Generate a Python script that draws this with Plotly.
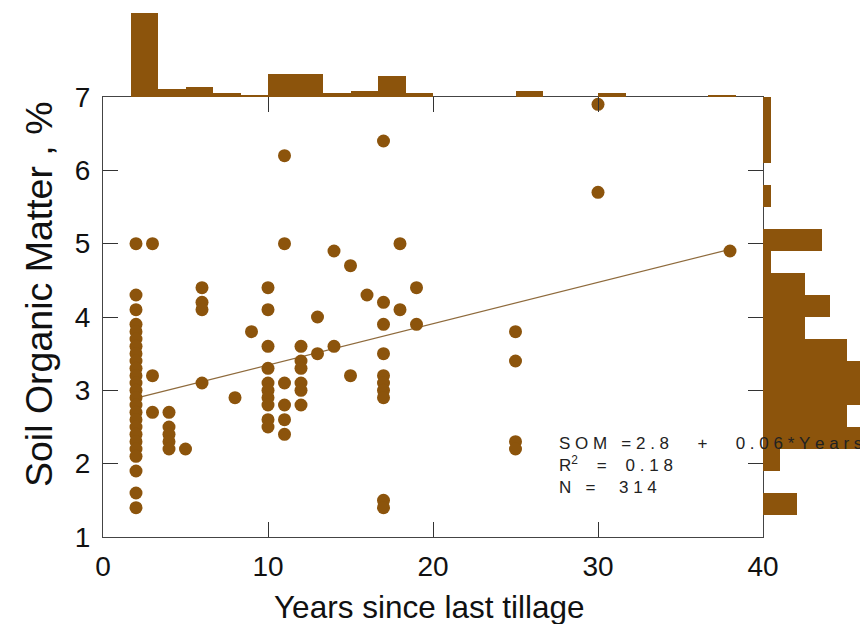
import plotly.graph_objects as go

# ---------------- data ----------------
# scatter points (Years since last tillage, SOM %)
YEARS = ([2]*25 + [3]*3 + [4]*5 + [5] + [6]*4 + [8] + [9] + [10]*10 + [11]*6 +
         [12]*6 + [13]*2 + [14]*2 + [15]*2 + [16] + [17]*10 + [18]*2 + [19]*2 +
         [25]*4 + [30]*2 + [38])
SOM = ([5.0, 4.3, 4.1, 3.9, 3.8, 3.7, 3.6, 3.5, 3.4, 3.3, 3.2, 3.1, 3.0, 2.9, 2.8,
        2.7, 2.6, 2.5, 2.4, 2.3, 2.2, 2.1, 1.9, 1.6, 1.4] +
       [5.0, 3.2, 2.7] +
       [2.7, 2.5, 2.4, 2.3, 2.2] +
       [2.2] +
       [4.4, 4.2, 4.1, 3.1] +
       [2.9] +
       [3.8] +
       [4.4, 4.1, 3.6, 3.3, 3.1, 3.0, 2.9, 2.8, 2.6, 2.5] +
       [6.2, 5.0, 3.1, 2.8, 2.6, 2.4] +
       [3.6, 3.4, 3.3, 3.1, 3.0, 2.8] +
       [4.0, 3.5] +
       [4.9, 3.6] +
       [4.7, 3.2] +
       [4.3] +
       [6.4, 4.2, 3.9, 3.5, 3.2, 3.1, 3.0, 2.9, 1.5, 1.4] +
       [5.0, 4.1] +
       [4.4, 3.9] +
       [3.8, 3.4, 2.3, 2.2] +
       [6.9, 5.7] +
       [4.9])

# regression line
INTERCEPT = 2.78
SLOPE = 0.0564
LINE_YEARS = [2, 38]

# top marginal histogram (bins of 5/3 year starting at 0)
TOP_BIN_WIDTH = 5 / 3
TOP_COUNTS = [0, 40, 4, 5, 2, 1, 11, 11, 2, 3, 10, 2, 0, 0, 0, 3, 0, 0, 2, 0, 0, 0, 1, 0]

# right marginal histogram (bins of 0.3 % starting at 1.3)
RIGHT_BIN_START = 1.3
RIGHT_BIN_WIDTH = 0.3
RIGHT_COUNTS = [4, 0, 2, 14, 10, 15, 16, 10, 5, 8, 5, 1, 7, 0, 1, 0, 1, 1, 1]

X_TICKS = [0, 10, 20, 30, 40]
Y_TICKS = [1, 2, 3, 4, 5, 6, 7]

# ---------------- style ----------------
BROWN = "#8C540C"
LINE_BROWN = "#8E6A3C"
FONT = "Liberation Sans, Arial, sans-serif"
W, H = 860, 624
PX_L, PX_R, PX_T, PX_B = 103, 763, 97, 537

xd = [PX_L / W, PX_R / W]
yd = [1 - PX_B / H, 1 - PX_T / H]

fig = go.Figure()

fig.add_trace(go.Bar(
    x=[(k + 0.5) * TOP_BIN_WIDTH for k in range(len(TOP_COUNTS))],
    y=TOP_COUNTS, width=TOP_BIN_WIDTH, marker=dict(color=BROWN, line=dict(width=0)),
    xaxis="x2", yaxis="y2", showlegend=False, hoverinfo="skip"))

fig.add_trace(go.Bar(
    y=[RIGHT_BIN_START + (k + 0.5) * RIGHT_BIN_WIDTH for k in range(len(RIGHT_COUNTS))],
    x=RIGHT_COUNTS, width=RIGHT_BIN_WIDTH, orientation="h",
    marker=dict(color=BROWN, line=dict(width=0)),
    xaxis="x3", yaxis="y3", showlegend=False, hoverinfo="skip"))

fig.add_trace(go.Scatter(
    x=LINE_YEARS, y=[INTERCEPT + SLOPE * v for v in LINE_YEARS], mode="lines",
    line=dict(color=LINE_BROWN, width=1.2), showlegend=False))

fig.add_trace(go.Scatter(
    x=YEARS, y=SOM, mode="markers",
    marker=dict(color=BROWN, size=13, line=dict(width=0)), showlegend=False))

axis_common = dict(showgrid=False, zeroline=False, showline=True, linecolor="#444",
                   linewidth=1, mirror="ticks", ticks="inside", ticklen=15,
                   tickcolor="#333", tickwidth=1, automargin=False,
                   tickfont=dict(family=FONT, size=28, color="#111"))

hidden = dict(visible=False, automargin=False)

fig.update_layout(
    width=W, height=H, autosize=False,
    margin=dict(l=0, r=0, t=0, b=0, pad=0, autoexpand=False),
    paper_bgcolor="white", plot_bgcolor="white", bargap=0,
    xaxis=dict(domain=xd, range=[0, 40], tickvals=X_TICKS, anchor="y",
               ticklabelstandoff=4, **axis_common),
    yaxis=dict(domain=yd, range=[1, 7], tickvals=Y_TICKS, anchor="x",
               ticklabelstandoff=6, **axis_common),
    xaxis2=dict(domain=xd, range=[0, 40], anchor="y2", **hidden),
    yaxis2=dict(domain=[yd[1], 1], range=[0, PX_T / 2.1], anchor="x2", **hidden),
    xaxis3=dict(domain=[xd[1], 1], range=[0, (W - PX_R) / 8.4], anchor="y3", **hidden),
    yaxis3=dict(domain=yd, range=[1, 7], anchor="x3", **hidden),
)

NB = "\u00a0"
def spaced(s):
    return NB.join(s)

line1 = (spaced("SOM") + NB * 3 + "=" + NB + spaced("2.8") + NB * 6 + "+" + NB * 6 +
         spaced("0.06*Years"))
line2 = "R<sup>2</sup>" + NB * 4 + "=" + NB * 4 + spaced("0.18")
line3 = "N" + NB * 3 + "=" + NB * 5 + spaced("314")
ann_text = "<br>".join([line1, line2, line3])
fig.add_annotation(text=ann_text, xref="paper", yref="paper", x=557 / W, y=1 - 465 / H,
                   xanchor="left", yanchor="middle", align="left", showarrow=False,
                   font=dict(family=FONT, size=17, color="#222"))

fig.add_annotation(text="Years since last tillage", xref="paper", yref="paper",
                   x=(PX_L + PX_R) / 2 / W - 0.004, y=1 - 607 / H, xanchor="center",
                   yanchor="middle", showarrow=False,
                   font=dict(family=FONT, size=31.5, color="#111"))
fig.add_annotation(text="Soil Organic Matter , %", xref="paper", yref="paper",
                   x=39 / W, y=1 - 294 / H, xanchor="center", yanchor="middle",
                   textangle=-90, showarrow=False, font=dict(family=FONT, size=37.5, color="#111"))

fig.write_html("out.html")
